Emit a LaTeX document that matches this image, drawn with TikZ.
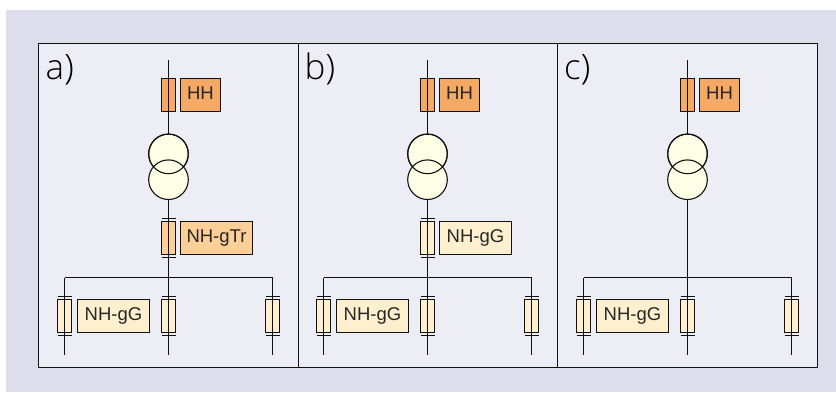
\documentclass[tikz,border=0pt]{standalone}
\usepackage{fontspec}
\setmainfont{Liberation Sans}
\newfontfamily\panelfont{Open Sans Light}
\definecolor{bgc}{HTML}{DDDDEC}
\definecolor{panelc}{HTML}{EDEDF5}
\definecolor{hhc}{HTML}{F4A965}
\definecolor{trc}{HTML}{FBCF96}
\definecolor{ggc}{HTML}{FEF0CF}
\definecolor{circc}{HTML}{FEFDE5}
\definecolor{linec}{HTML}{111111}
\tikzset{
  x=1pt,y=-1pt,
  wire/.style={draw=linec,line width=1pt},
  fusebody/.style={draw=linec,line width=1pt,minimum width=14pt,minimum height=33pt,inner sep=0pt,outer sep=0pt},
  labelbox/.style={draw=linec,line width=1pt,minimum height=33pt,inner sep=0pt,outer sep=0pt,text height=13.2pt,text depth=3.9pt,font=\fontsize{18.5}{20}\selectfont,text=black!85},
  coil/.style={circle,draw=linec,line width=1.1pt,fill=circc,minimum size=39.6pt,inner sep=0pt,outer sep=0pt},
  coilline/.style={draw=linec,line width=1.1pt},
  fusecap/.style={draw=linec,line width=1pt},
  paneltag/.style={anchor=base west,inner sep=0pt,font=\panelfont\fontsize{35}{38}\selectfont,text=black},
  panelbox/.style={draw=linec,line width=1pt,fill=panelc,minimum height=324pt,inner sep=0pt,outer sep=0pt,anchor=north west},
}
\begin{document}
\begin{tikzpicture}
\useasboundingbox (0,0) rectangle (836,392);
\fill[bgc] (6,10) rectangle (836,392);
\node[panelbox,minimum width=259.5pt] (pa) at (38.5,43.5) {};
\node[panelbox,minimum width=259.5pt] (pb) at (298,43.5) {};
\node[panelbox,minimum width=259.5pt] (pc) at (557.5,43.5) {};
\node[paneltag] (ta) at (45.5,79) {a)};
\node[paneltag] (tb) at (304.5,79) {b)};
\node[paneltag] (tc) at (564,79) {c)};
\foreach \p/\ax in {a/168.5,b/427.5,c/687.5}{
  \coordinate (top\p) at (\ax,60);
  \coordinate (bus\p) at (\ax,277.5);
  \coordinate (busl\p) at (\ax-104,277.5);
  \coordinate (busr\p) at (\ax+104,277.5);
  \coordinate (endl\p) at (\ax-104,354.7);
  \coordinate (endm\p) at (\ax,354.7);
  \coordinate (endr\p) at (\ax+104,354.7);
  % HV fuse and label
  \node[fusebody,fill=hhc] (hf\p) at (\ax,95) {};
  \node[labelbox,fill=hhc,minimum width=40pt] (hl\p) at (\ax+32,95) {HH};
  % transformer: both windings stay visible where they overlap
  \node[coil] (c1\p) at (\ax,153.9) {};
  \node[coil] (c2\p) at (\ax,179.7) {};
  \draw[coilline] (\ax,153.9) circle[radius=19.8pt];
  % feeder fuses
  \node[fusebody,fill=ggc] (fl\p) at (\ax-104,316) {};
  \node[fusebody,fill=ggc] (fm\p) at (\ax,316) {};
  \node[fusebody,fill=ggc] (fr\p) at (\ax+104,316) {};
  \node[labelbox,fill=ggc,minimum width=72pt] (gl\p) at (\ax-55,316) {NH-gG};
  \draw[wire] (top\p) -- (c1\p.north);
  \draw[wire] (busl\p) -- (busr\p);
  \draw[wire] (busl\p) -- (endl\p);
  \draw[wire] (bus\p) -- (endm\p);
  \draw[wire] (busr\p) -- (endr\p);
  \foreach \f in {fl,fm,fr}{
    \draw[fusecap] ([xshift=-7pt,yshift=3pt]\f\p.north) -- ([xshift=7pt,yshift=3pt]\f\p.north);
    \draw[fusecap] ([xshift=-7pt,yshift=-3pt]\f\p.south) -- ([xshift=7pt,yshift=-3pt]\f\p.south);
  }
}
% a) low-voltage transformer fuse
\node[fusebody,fill=trc] (tfa) at (168.5,238) {};
\node[labelbox,fill=trc,minimum width=72pt] (tla) at (216.5,238) {NH-gTr};
\draw[wire] (c2a.south) -- (busa);
\draw[fusecap] ([xshift=-7pt,yshift=3pt]tfa.north) -- ([xshift=7pt,yshift=3pt]tfa.north);
\draw[fusecap] ([xshift=-7pt,yshift=-3pt]tfa.south) -- ([xshift=7pt,yshift=-3pt]tfa.south);
% b) low-voltage fuse
\node[fusebody,fill=ggc] (tfb) at (427.5,238) {};
\node[labelbox,fill=ggc,minimum width=72pt] (tlb) at (475.5,238) {NH-gG};
\draw[wire] (c2b.south) -- (busb);
\draw[fusecap] ([xshift=-7pt,yshift=3pt]tfb.north) -- ([xshift=7pt,yshift=3pt]tfb.north);
\draw[fusecap] ([xshift=-7pt,yshift=-3pt]tfb.south) -- ([xshift=7pt,yshift=-3pt]tfb.south);
% c) direct connection
\draw[wire] (c2c.south) -- (busc);
\end{tikzpicture}
\end{document}
